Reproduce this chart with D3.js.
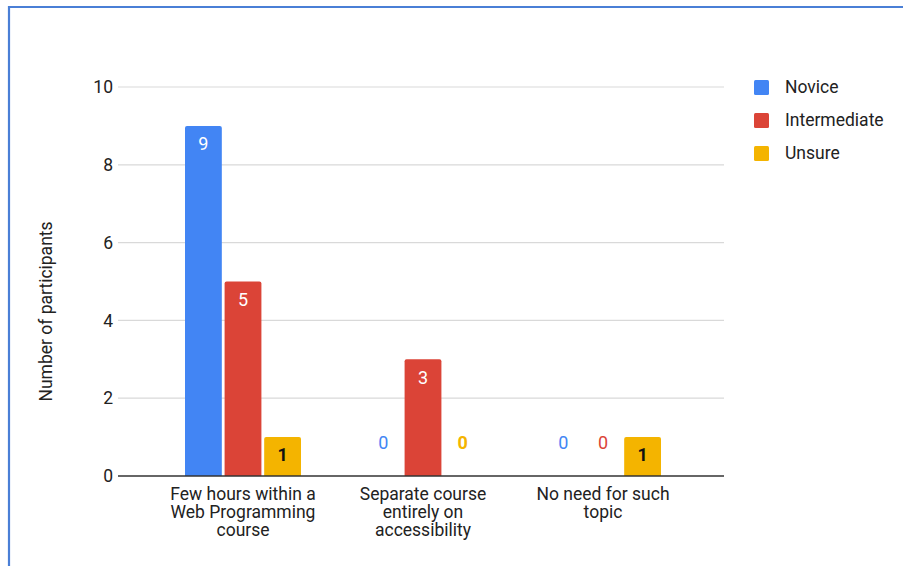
<!DOCTYPE html>
<html>
<head>
<meta charset="utf-8">
<script src="https://cdn.jsdelivr.net/npm/d3@7"></script>
<style>
  html, body { margin: 0; padding: 0; background: #fff; }
  svg { display: block; font-family: Roboto, "Noto Sans", Arial, sans-serif; }
</style>
</head>
<body>
<svg id="chart" width="903" height="566"></svg>
<script>
// Survey answers: preferred way to teach accessibility, split by experience level
const categories = [
  ["Few hours within a", "Web Programming", "course"],
  ["Separate course", "entirely on", "accessibility"],
  ["No need for such", "topic"]
];
const seriesNames = ["Novice", "Intermediate", "Unsure"];
const novice = [9, 0, 0];
const intermediate = [5, 3, 0];
const unsure = [1, 0, 1];
const yTicks = [0, 2, 4, 6, 8, 10];

const colors = { Novice: "#4285f4", Intermediate: "#db4437", Unsure: "#f4b400" };
const insideLabel = { Novice: "#ffffff", Intermediate: "#ffffff", Unsure: "#111111" };
const valuesBySeries = { Novice: novice, Intermediate: intermediate, Unsure: unsure };

const svg = d3.select("#chart");

// Frame around the chart area
svg.append("path")
  .attr("d", "M9,566 V7 H903")
  .attr("fill", "none")
  .attr("stroke", "#4a7fd6")
  .attr("stroke-width", 2.2);

const plotLeft = 122, plotRight = 724;
const y = d3.scaleLinear().domain([0, 10]).range([476, 87]);
const x0 = d3.scalePoint().domain(d3.range(categories.length)).range([153, 693]).padding(0.5);
const x1 = d3.scaleBand().domain(seriesNames).range([-58, 58]).paddingInner(0.07);

// Gridlines and y tick labels
const grid = svg.append("g");
grid.selectAll("line").data(yTicks.filter(t => t > 0)).join("line")
  .attr("x1", plotLeft - 4).attr("x2", plotRight)
  .attr("y1", d => y(d)).attr("y2", d => y(d))
  .attr("stroke", "#d9d9d9").attr("stroke-width", 1.2);
grid.selectAll("text").data(yTicks).join("text")
  .attr("x", 113).attr("y", d => y(d))
  .attr("dy", "0.35em").attr("text-anchor", "end")
  .attr("font-size", 17.5).attr("fill", "#222")
  .text(d => d);

// Y axis title
svg.append("text")
  .attr("transform", `translate(52,${y(5) + 30}) rotate(-90)`)
  .attr("text-anchor", "middle").attr("font-size", 17.5).attr("fill", "#222")
  .text("Number of participants");

// Bars
const groups = svg.append("g").selectAll("g").data(categories.map((c, i) => i)).join("g")
  .attr("transform", i => `translate(${x0(i)},0)`);

const cells = groups.selectAll("g.cell")
  .data(i => seriesNames.map(s => ({ s, v: valuesBySeries[s][i] })))
  .join("g").attr("class", "cell");

cells.filter(d => d.v > 0).append("path")
  .attr("fill", d => colors[d.s])
  .attr("d", d => {
    const bx = x1(d.s), bw = x1.bandwidth(), top = y(d.v), bot = y(0), r = 2;
    return `M${bx},${bot} V${top + r} Q${bx},${top} ${bx + r},${top} H${bx + bw - r} Q${bx + bw},${top} ${bx + bw},${top + r} V${bot} Z`;
  });

// Value labels: inside the bar top, or above the baseline for zeros
cells.append("text")
  .attr("x", d => x1(d.s) + x1.bandwidth() / 2)
  .attr("y", d => d.v > 0 ? y(d.v) + 18 : y(0) - 33)
  .attr("dy", "0.35em")
  .attr("text-anchor", "middle")
  .attr("font-size", 18)
  .attr("font-weight", d => d.s === "Unsure" ? 700 : 400)
  .attr("fill", d => d.v > 0 ? insideLabel[d.s] : colors[d.s])
  .text(d => d.v);

// Baseline
svg.append("line")
  .attr("x1", plotLeft - 4).attr("x2", plotRight)
  .attr("y1", y(0)).attr("y2", y(0))
  .attr("stroke", "#333").attr("stroke-width", 1.3);

// Category labels
const catLabels = svg.append("g").selectAll("text").data(categories).join("text")
  .attr("x", (d, i) => x0(i)).attr("y", 500)
  .attr("text-anchor", "middle").attr("font-size", 17.5).attr("fill", "#222");
catLabels.selectAll("tspan").data(d => d).join("tspan")
  .attr("x", function () { return d3.select(this.parentNode).attr("x"); })
  .attr("dy", (d, i) => i === 0 ? 0 : 18)
  .text(d => d);

// Legend
const legend = svg.append("g").selectAll("g").data(seriesNames).join("g")
  .attr("transform", (d, i) => `translate(754,${87 + i * 33})`);
legend.append("rect")
  .attr("x", 0).attr("y", -7).attr("width", 15).attr("height", 15).attr("rx", 1.5)
  .attr("fill", d => colors[d]);
legend.append("text")
  .attr("x", 31).attr("y", 0).attr("dy", "0.35em")
  .attr("font-size", 17.5).attr("fill", "#222")
  .text(d => d);
</script>
</body>
</html>
